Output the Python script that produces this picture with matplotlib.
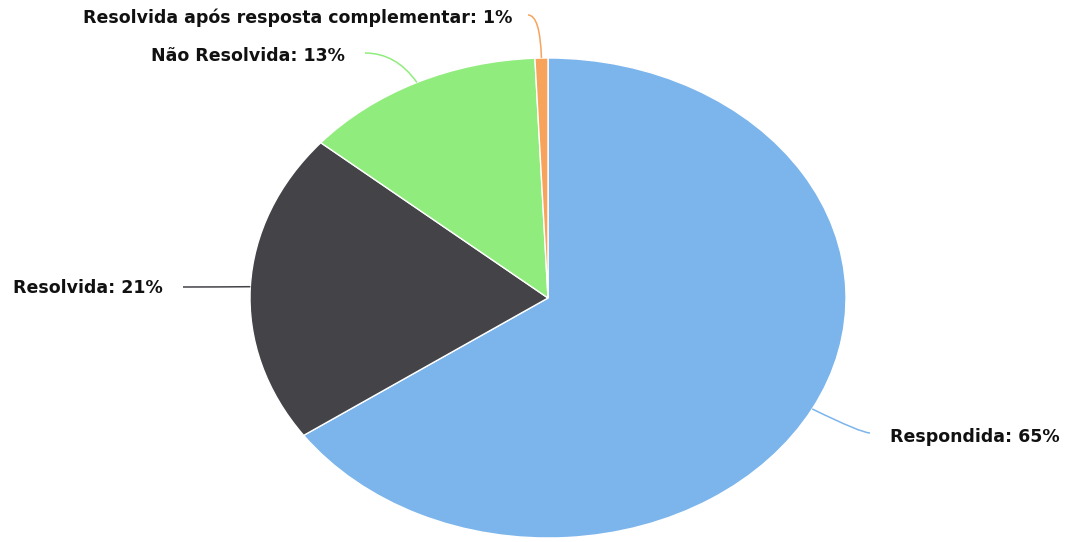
import numpy as np
import matplotlib
matplotlib.use('Agg')
from matplotlib import pyplot as plt
from matplotlib.path import Path
from matplotlib.patches import PathPatch

# slice data, clockwise from 12 o'clock
names = ['Respondida', 'Resolvida', 'Não Resolvida', 'Resolvida após resposta complementar']
shares = [65.3, 20.9, 13.1, 0.7]
shown_pct = [65, 21, 13, 1]         # percentages printed in the labels
colors = ['#7cb5ec', '#434348', '#90ed7d', '#f7a35c']

# layout (pixel coords of the original picture)
W, H = 1075, 542
cx, cy = 548, 298      # pie centre
rx, ry = 298, 240      # picture is stretched, so the pie is an ellipse

def to_data(px, py):
    return (px - cx) / rx, (cy - py) / ry

# where each connector meets its label and where the label text sits
conn_end = [(870, 433), (183, 287), (365, 53), (528, 15)]
label_at = [(890, 437), (163, 288), (345, 56), (512, 18)]
label_ha = ['left', 'right', 'right', 'right']
bend = [0.15, 0.5, 0.6, 0.9]   # how far the control point sits toward the slice

fig = plt.figure(figsize=(W / 100, H / 100), dpi=100)
ax = fig.add_axes([0, 0, 1, 1])

wedges, _ = ax.pie(shares, colors=colors, startangle=90, counterclock=False,
                   radius=1.0, wedgeprops=dict(edgecolor='white', linewidth=1))
ax.set_aspect('auto')
ax.set_xlim(-cx / rx, (W - cx) / rx)
ax.set_ylim((cy - H) / ry, cy / ry)
ax.axis('off')

for i, w in enumerate(wedges):
    mid = np.deg2rad((w.theta1 + w.theta2) / 2)
    p0 = (np.cos(mid), np.sin(mid))
    p1 = to_data(*conn_end[i])
    ctrl = (p1[0] + bend[i] * (p0[0] - p1[0]), p1[1])
    path = Path([p0, ctrl, p1], [Path.MOVETO, Path.CURVE3, Path.CURVE3])
    ax.add_patch(PathPatch(path, facecolor='none', edgecolor=colors[i], lw=1.1, clip_on=False))
    tx, ty = to_data(*label_at[i])
    ax.text(tx, ty, f'{names[i]}: {shown_pct[i]}%', ha=label_ha[i], va='center',
            fontsize=12.5, fontweight='bold', color='#111111', family='DejaVu Sans')

fig.savefig('out.png', dpi=100, facecolor='white')
